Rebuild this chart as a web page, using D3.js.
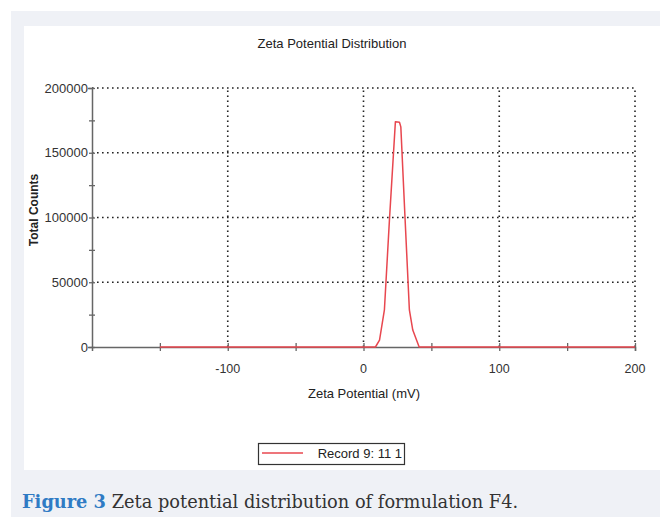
<!DOCTYPE html>
<html><head><meta charset="utf-8">
<script src="https://cdn.jsdelivr.net/npm/d3@7"></script>
<style>body{margin:0;background:#fff;}svg{display:block;}</style>
</head><body>
<svg id="c" width="660" height="517"></svg>
<script>
const title = "Zeta Potential Distribution";
const xTitle = "Zeta Potential (mV)";
const yTitle = "Total Counts";
const seriesName = "Record 9: 11 1";
const zeta =   [-150, 0, 8.8, 11.8, 15.4, 19.1, 23.5, 26.5, 27.5, 30.6, 33.8, 36.3, 41, 100, 200];
const counts = [0,    0, 0,   5400, 28600, 98000, 174000, 173500, 170000, 99400, 28600, 13100, 0, 0, 0];
const xMajorTicks = [-100, 0, 100, 200];
const xAllTicks = [-150, -100, -50, 0, 50, 100, 150, 200];
const yMajorTicks = [0, 50000, 100000, 150000, 200000];
const yAllTicks = [0, 25000, 50000, 75000, 100000, 125000, 150000, 175000, 200000];

const svg = d3.select("#c");
// backgrounds
svg.append("rect").attr("x",11).attr("y",11).attr("width",649).attr("height",506).attr("fill","#eff1f6");
svg.append("rect").attr("x",24).attr("y",26).attr("width",636).attr("height",444).attr("fill","#ffffff");

const x = d3.scaleLinear().domain([-200,200]).range([92,635]);
const y = d3.scaleLinear().domain([0,200000]).range([347,88]);
const font = "Liberation Sans, Arial, sans-serif";

// grid
const g = svg.append("g");
g.selectAll(".hg").data(yMajorTicks.filter(d=>d>0)).join("line")
  .attr("x1",x(-200)).attr("x2",x(200)).attr("y1",d=>y(d)).attr("y2",d=>y(d))
  .attr("stroke","#222").attr("stroke-width",1.6).attr("stroke-dasharray","1.6,3.4");
g.selectAll(".vg").data(xMajorTicks).join("line")
  .attr("x1",d=>x(d)).attr("x2",d=>x(d)).attr("y1",y(0)).attr("y2",y(200000))
  .attr("stroke","#222").attr("stroke-width",1.6).attr("stroke-dasharray","1.6,3.4");

// axes
const xAxis = d3.axisBottom(x).tickValues(xAllTicks).tickSize(4).tickFormat("");
const yAxis = d3.axisLeft(y).tickValues(yAllTicks).tickSize(4).tickFormat("");
const ax = svg.append("g").attr("transform",`translate(0,${y(0)})`).call(xAxis);
ax.selectAll(".tick line").attr("y1",-4).attr("y2",4);
const ay = svg.append("g").attr("transform",`translate(${x(-200)},0)`).call(yAxis);
ay.selectAll(".tick line").attr("x1",-3).attr("x2",3);
[ax,ay].forEach(a=>{a.select(".domain").attr("stroke","#666").attr("stroke-width",1.5);
  a.selectAll(".tick line").attr("stroke","#666").attr("stroke-width",1.3);});

// tick labels
svg.append("g").selectAll("text").data(xMajorTicks).join("text")
  .attr("x",d=>x(d)).attr("y",373).attr("text-anchor","middle")
  .attr("font-family",font).attr("font-size",12.5).attr("fill","#333")
  .text(d=>d<0?"-"+Math.abs(d):d);
svg.append("g").selectAll("text").data(yMajorTicks).join("text")
  .attr("x",88).attr("y",d=>y(d)+4.5).attr("text-anchor","end")
  .attr("font-family",font).attr("font-size",13).attr("fill","#333")
  .text(d=>d);

// line
const line = d3.line().x((d,i)=>x(zeta[i])).y(d=>y(d));
svg.append("path").datum(counts).attr("d",line).attr("fill","none")
  .attr("stroke","#e8474f").attr("stroke-width",1.5).attr("stroke-linejoin","round");

// titles
svg.append("text").attr("x",332).attr("y",48).attr("text-anchor","middle")
  .attr("font-family",font).attr("font-size",13).attr("fill","#222").text(title);
svg.append("text").attr("x",364).attr("y",398).attr("text-anchor","middle")
  .attr("font-family",font).attr("font-size",13).attr("fill","#222").text(xTitle);
svg.append("text").attr("transform","translate(38,210) rotate(-90)").attr("text-anchor","middle")
  .attr("font-family",font).attr("font-size",12).attr("font-weight","bold").attr("fill","#222").text(yTitle);

// legend
svg.append("rect").attr("x",258.5).attr("y",443.5).attr("width",146).attr("height",21)
  .attr("fill","#fff").attr("stroke","#333").attr("stroke-width",1.2);
svg.append("line").attr("x1",262).attr("x2",303).attr("y1",453).attr("y2",453)
  .attr("stroke","#e8474f").attr("stroke-width",1.5);
svg.append("text").attr("x",402).attr("y",458).attr("text-anchor","end")
  .attr("font-family",font).attr("font-size",13).attr("fill","#222").text(seriesName);

// caption
const cap = svg.append("text").attr("x",22).attr("y",508)
  .attr("font-family","DejaVu Serif, serif").attr("font-size",17.8).attr("fill","#333");
cap.append("tspan").attr("fill","#2f7bc4").attr("font-weight","bold").text("Figure 3");
cap.append("tspan").text(" Zeta potential distribution of formulation F4.");
</script>
</body></html>
